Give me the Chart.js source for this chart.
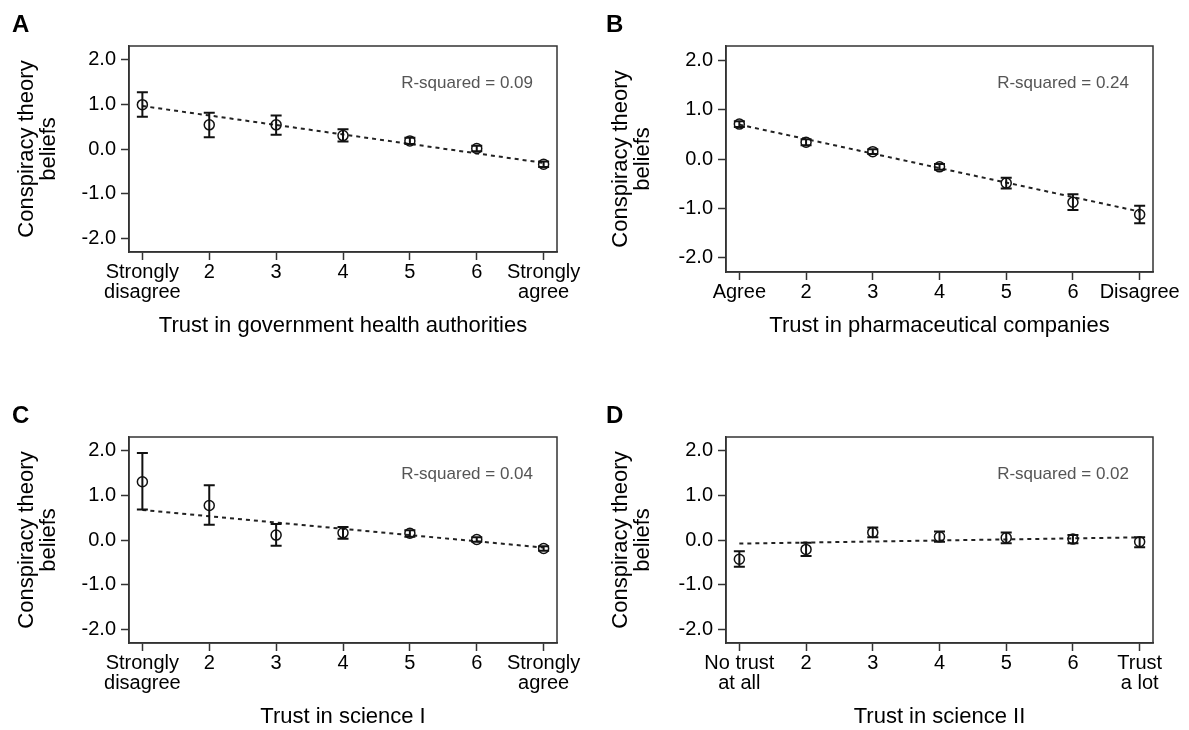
<!DOCTYPE html>
<html>
<head>
<meta charset="utf-8">
<script src="https://cdn.jsdelivr.net/npm/chart.js@4"></script>
<style>
  html, body { margin: 0; padding: 0; background: #fff; }
  body { width: 1189px; height: 730px; position: relative; overflow: hidden; }
  canvas { position: absolute; }
</style>
</head>
<body>
<canvas id="chartA" width="594" height="392" style="left:0;top:0"></canvas>
<canvas id="chartB" width="595" height="392" style="left:594px;top:0"></canvas>
<canvas id="chartC" width="594" height="338" style="left:0;top:392px"></canvas>
<canvas id="chartD" width="595" height="338" style="left:594px;top:392px"></canvas>
<script>
// shared axis values
const xLevels = [1, 2, 3, 4, 5, 6, 7];
const yTicks = [-2, -1, 0, 1, 2];
const fitX = [1, 7];

// A - government health authorities
const labelsA = [['Strongly', 'disagree'], '2', '3', '4', '5', '6', ['Strongly', 'agree']];
const meanA = [0.99, 0.54, 0.54, 0.30, 0.18, 0.01, -0.34];
const lowA = [0.72, 0.26, 0.32, 0.17, 0.11, -0.05, -0.40];
const highA = [1.27, 0.81, 0.75, 0.44, 0.25, 0.07, -0.28];
const fitA = [0.96, -0.31];

// B - pharmaceutical companies
const labelsB = ['Agree', '2', '3', '4', '5', '6', 'Disagree'];
const meanB = [0.71, 0.34, 0.15, -0.16, -0.49, -0.88, -1.13];
const lowB = [0.65, 0.28, 0.10, -0.22, -0.60, -1.04, -1.31];
const highB = [0.77, 0.40, 0.20, -0.10, -0.38, -0.72, -0.95];
const fitB = [0.70, -1.07];

// C - science I
const labelsC = [['Strongly', 'disagree'], '2', '3', '4', '5', '6', ['Strongly', 'agree']];
const meanC = [1.30, 0.77, 0.11, 0.16, 0.15, 0.01, -0.19];
const lowC = [0.68, 0.34, -0.13, 0.03, 0.07, -0.04, -0.24];
const highC = [1.94, 1.22, 0.36, 0.29, 0.22, 0.06, -0.14];
const fitC = [0.67, -0.17];

// D - science II
const labelsD = [['No trust', 'at all'], '2', '3', '4', '5', '6', ['Trust', 'a lot']];
const meanD = [-0.43, -0.21, 0.17, 0.07, 0.05, 0.02, -0.04];
const lowD = [-0.60, -0.36, 0.06, -0.04, -0.07, -0.07, -0.16];
const highD = [-0.25, -0.06, 0.28, 0.19, 0.17, 0.11, 0.06];
const fitD = [-0.08, 0.06];

const FONT = "'Liberation Sans', Arial, sans-serif";

// draws frame, error bars, panel letter and R-squared note
const panelExtras = {
    id: 'panelExtras',
    beforeDatasetsDraw(chart) {
        const {ctx, chartArea: a} = chart;
        ctx.save();
        ctx.strokeStyle = '#333';
        ctx.lineWidth = 1.5;
        ctx.strokeRect(a.left, a.top, a.right - a.left, a.bottom - a.top);
        ctx.restore();
    },
    afterDatasetsDraw(chart, args, opts) {
        const {ctx, scales: {x, y}} = chart;
        ctx.save();
        ctx.strokeStyle = '#111';
        ctx.lineWidth = 2;
        opts.low.forEach((lo, i) => {
            const px = x.getPixelForValue(xLevels[i]);
            const y1 = y.getPixelForValue(lo);
            const y2 = y.getPixelForValue(opts.high[i]);
            ctx.beginPath();
            ctx.moveTo(px, y1); ctx.lineTo(px, y2);
            ctx.moveTo(px - 5.5, y1); ctx.lineTo(px + 5.5, y1);
            ctx.moveTo(px - 5.5, y2); ctx.lineTo(px + 5.5, y2);
            ctx.stroke();
        });
        ctx.restore();
    },
    afterDraw(chart, args, opts) {
        const {ctx, chartArea: a} = chart;
        ctx.save();
        ctx.fillStyle = '#000';
        ctx.font = 'bold 24px ' + FONT;
        ctx.textBaseline = 'alphabetic';
        ctx.fillText(opts.letter, 12, a.top - 14);
        ctx.fillStyle = '#555';
        ctx.font = '17px ' + FONT;
        ctx.textAlign = 'right';
        ctx.textBaseline = 'middle';
        ctx.fillText(opts.rsq, a.right - 24, a.top + 37);
        ctx.restore();
    }
};

function makePanel(id, p) {
    const ctx = document.getElementById(id).getContext('2d');
    return new Chart(ctx, {
        type: 'scatter',
        data: {
            datasets: [
                {
                    data: xLevels.map((v, i) => ({x: v, y: p.mean[i]})),
                    pointRadius: 5,
                    pointBorderWidth: 1.5,
                    borderColor: '#111',
                    backgroundColor: 'rgba(0,0,0,0)'
                },
                {
                    data: fitX.map((v, i) => ({x: v, y: p.fit[i]})),
                    showLine: true,
                    pointRadius: 0,
                    borderColor: '#222',
                    borderWidth: 2,
                    borderDash: [4, 4]
                }
            ]
        },
        options: {
            responsive: false,
            animation: false,
            layout: {padding: {top: p.padTop, right: p.padRight, bottom: p.padBottom, left: 0}},
            plugins: {
                legend: {display: false},
                tooltip: {enabled: false},
                panelExtras: {low: p.low, high: p.high, letter: p.letter, rsq: p.rsq}
            },
            scales: {
                x: {
                    type: 'linear',
                    min: 0.8,
                    max: 7.2,
                    afterBuildTicks: s => { s.ticks = xLevels.map(v => ({value: v})); },
                    afterFit: s => { s.height = p.xAxisH; },
                    border: {color: '#333', width: 1.5},
                    grid: {drawOnChartArea: false, tickLength: 8, tickColor: '#333', tickWidth: 1.5},
                    ticks: {
                        autoSkip: false, maxRotation: 0, minRotation: 0, padding: 2,
                        color: '#000', font: {family: FONT, size: 20, lineHeight: 1.0},
                        callback: (v, i) => p.labels[i]
                    },
                    title: {display: true, text: p.xTitle, color: '#000', padding: 0,
                            font: {family: FONT, size: 22, lineHeight: 1.2}}
                },
                y: {
                    min: -2.3,
                    max: 2.3,
                    afterBuildTicks: s => { s.ticks = yTicks.map(v => ({value: v})); },
                    afterFit: s => { s.width = p.axisW; },
                    border: {color: '#333', width: 1.5},
                    grid: {drawOnChartArea: false, tickLength: 8, tickColor: '#333', tickWidth: 1.5},
                    ticks: {
                        padding: 5, color: '#000', font: {family: FONT, size: 20},
                        callback: v => v.toFixed(1)
                    },
                    title: {display: true, text: ['Conspiracy theory', 'beliefs'], color: '#000',
                            padding: {top: 16, bottom: 0},
                            font: {family: FONT, size: 22, lineHeight: 1.0}}
                }
            }
        },
        plugins: [panelExtras]
    });
}

makePanel('chartA', {labels: labelsA, mean: meanA, low: lowA, high: highA, fit: fitA,
    xTitle: 'Trust in government health authorities', letter: 'A', rsq: 'R-squared = 0.09',
    axisW: 129, padTop: 46, padRight: 37, padBottom: 53, xAxisH: 87});
makePanel('chartB', {labels: labelsB, mean: meanB, low: lowB, high: highB, fit: fitB,
    xTitle: 'Trust in pharmaceutical companies', letter: 'B', rsq: 'R-squared = 0.24',
    axisW: 132, padTop: 46, padRight: 36, padBottom: 53, xAxisH: 67});
makePanel('chartC', {labels: labelsC, mean: meanC, low: lowC, high: highC, fit: fitC,
    xTitle: 'Trust in science I', letter: 'C', rsq: 'R-squared = 0.04',
    axisW: 129, padTop: 45, padRight: 37, padBottom: 0, xAxisH: 87});
makePanel('chartD', {labels: labelsD, mean: meanD, low: lowD, high: highD, fit: fitD,
    xTitle: 'Trust in science II', letter: 'D', rsq: 'R-squared = 0.02',
    axisW: 132, padTop: 45, padRight: 36, padBottom: 0, xAxisH: 87});
</script>
</body>
</html>
